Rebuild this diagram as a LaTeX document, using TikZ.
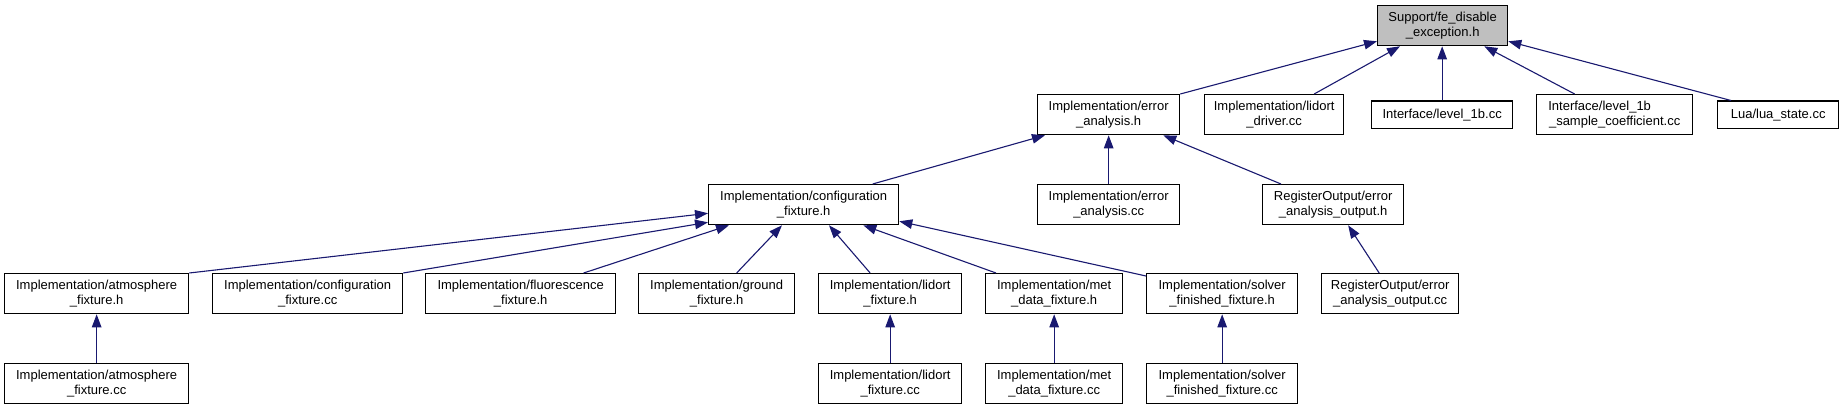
\documentclass[tikz,border=0pt]{standalone}
\usepackage{fontspec}
\setmainfont{Liberation Sans}
\usetikzlibrary{arrows.meta,calc}
\definecolor{edgeblue}{HTML}{191970}
\definecolor{rootgray}{HTML}{BFBFBF}
\newcommand\dbox[7][]{\node[box,#1,minimum width=#5pt,minimum height=#6pt] (#2) at (#3,{409-#4}) {#7};}
\begin{document}
\begin{tikzpicture}[x=1pt,y=1pt,
  box/.style={draw=black, line width=1.3pt, fill=white, inner sep=0pt, align=center, anchor=north west, font=\fontsize{13}{14.5}\selectfont},
  edge/.style={draw=edgeblue, line width=1.1pt, -{Triangle[length=13pt,width=9.5pt]}}]
\fill[white] (0,0) rectangle (1841,409);
\useasboundingbox (0,0) rectangle (1841,409);
% row 1
\dbox[fill=rootgray]{support}{1377}{5}{130}{40}{Support/fe\_disable\\\_exception.h}
% row 2
\dbox{errh}{1037}{94}{142}{40}{Implementation/error\\\_analysis.h}
\dbox{lidd}{1204}{94}{139}{40}{Implementation/lidort\\\_driver.cc}
\dbox{lonb}{1371}{100.5}{141}{27.5}{Interface/level\_1b.cc}
\dbox{lonbs}{1536}{94}{156}{40}{Interface/level\_1b\hspace*{30pt}\\\_sample\_coefficient.cc}
\dbox{lua}{1717}{100.5}{121}{27.5}{Lua/lua\_state.cc}
% row 3
\dbox{cfgh}{708}{184}{190}{40}{Implementation/configuration\\\_fixture.h}
\dbox{errcc}{1037}{184}{142}{40}{Implementation/error\\\_analysis.cc}
\dbox{roh}{1262}{184}{141}{40}{RegisterOutput/error\\\_analysis\_output.h}
% row 4
\dbox{atmh}{4}{273}{184}{40}{Implementation/atmosphere\\\_fixture.h}
\dbox{cfgcc}{212}{273}{190}{40}{Implementation/configuration\\\_fixture.cc}
\dbox{fluor}{425}{273}{190}{40}{Implementation/fluorescence\\\_fixture.h}
\dbox{ground}{638}{273}{156}{40}{Implementation/ground\\\_fixture.h}
\dbox{lidh}{818}{273}{143}{40}{Implementation/lidort\\\_fixture.h}
\dbox{meth}{985}{273}{137}{40}{Implementation/met\\\_data\_fixture.h}
\dbox{solh}{1146}{273}{151}{40}{Implementation/solver\\\_finished\_fixture.h}
\dbox{rocc}{1321}{273}{137}{40}{RegisterOutput/error\\\_analysis\_output.cc}
% row 5
\dbox{atmcc}{4}{363}{184}{40}{Implementation/atmosphere\\\_fixture.cc}
\dbox{lidcc}{818}{363}{143}{40}{Implementation/lidort\\\_fixture.cc}
\dbox{metcc}{985}{363}{137}{40}{Implementation/met\\\_data\_fixture.cc}
\dbox{solcc}{1146}{363}{151}{40}{Implementation/solver\\\_finished\_fixture.cc}
% edges
\draw[edge] (errh.north east) -- ([yshift=5pt]support.south west);
\draw[edge] ([xshift=40pt]lidd.north) -- ([xshift=23pt]support.south west);
\draw[edge] (lonb.north) -- (lonb.north |- support.south);
\draw[edge] ([xshift=-40pt]lonbs.north) -- ([xshift=-24pt]support.south east);
\draw[edge] ([xshift=14pt]lua.north west) -- ([yshift=5pt]support.south east);
\draw[edge] ([xshift=69pt]cfgh.north) -- ([xshift=8pt]errh.south west);
\draw[edge] (errcc.north) -- (errh.south);
\draw[edge] ([xshift=19pt]roh.north west) -- ([xshift=-17pt]errh.south east);
\draw[edge] (atmh.north east) -- ([yshift=12pt]cfgh.south west);
\draw[edge] (cfgcc.north east) -- ([yshift=3pt]cfgh.south west);
\draw[edge] ([xshift=63pt]fluor.north) -- ([xshift=21pt]cfgh.south west);
\draw[edge] ([xshift=20pt]ground.north) -- ([xshift=74pt]cfgh.south west);
\draw[edge] ([xshift=-20pt]lidh.north) -- ([xshift=121pt]cfgh.south west);
\draw[edge] ([xshift=11pt]meth.north west) -- ([xshift=-36pt]cfgh.south east);
\draw[edge] ([yshift=-3pt]solh.north west) -- ([yshift=4pt]cfgh.south east);
\draw[edge] (atmcc.north) -- (atmh.south);
\draw[edge] (lidcc.north) -- (lidh.south);
\draw[edge] (metcc.north) -- (meth.south);
\draw[edge] (solcc.north) -- (solh.south);
\draw[edge] ([xshift=-11pt]rocc.north) -- ([xshift=15pt]roh.south);
\end{tikzpicture}
\end{document}
